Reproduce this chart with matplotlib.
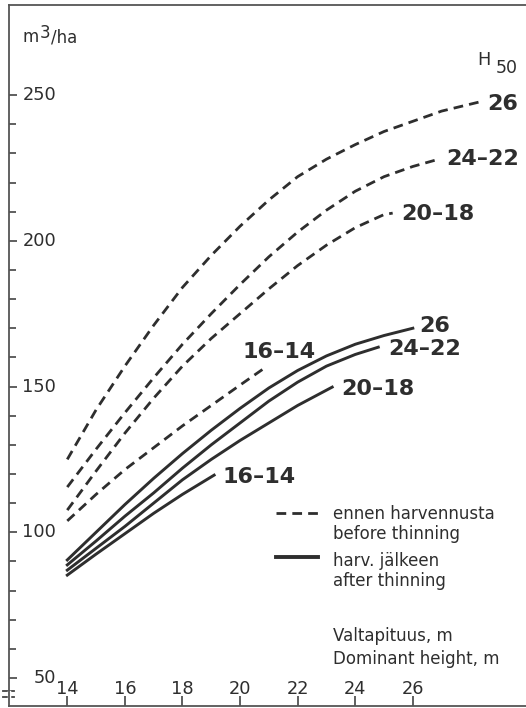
import matplotlib.pyplot as plt
from matplotlib.lines import Line2D

plt.rcParams['font.family'] = ['DejaVu Sans']

# Volume (m3/ha) against dominant height, by H50 site class
h_26_before = [14, 15, 16, 17, 18, 19, 20, 21, 22, 23, 24, 25, 26, 27, 28.3]
v_26_before = [125, 142, 157, 171, 184, 195, 205, 214, 222, 228, 233, 237.5, 241, 244.5, 247.6]
h_2422_before = [14, 15, 16, 17, 18, 19, 20, 21, 22, 23, 24, 25, 26, 26.9]
v_2422_before = [115.5, 128.5, 141, 153, 164.5, 175, 185, 194.5, 203, 210.5, 217, 222, 225.5, 228]
h_2018_before = [14, 15, 16, 17, 18, 19, 20, 21, 22, 23, 24, 25, 25.3]
v_2018_before = [107.6, 121, 134, 146, 157, 166.5, 175, 183.5, 191.5, 198.5, 204.5, 209, 209.5]
h_1614_before = [14, 15, 16, 17, 18, 19, 20, 20.8]
v_1614_before = [103.9, 113, 121.5, 129, 136.5, 143.5, 150.5, 156]

h_26_after = [14, 15, 16, 17, 18, 19, 20, 21, 22, 23, 24, 25, 26]
v_26_after = [90.5, 100, 109.5, 118.5, 127, 135, 142.5, 149.5, 155.5, 160.5, 164.5, 167.5, 170]
h_2422_after = [14, 15, 16, 17, 18, 19, 20, 21, 22, 23, 24, 24.8]
v_2422_after = [88.8, 97, 105.5, 113.5, 122, 130, 137.5, 145, 151.5, 157, 161, 163.5]
h_2018_after = [14, 15, 16, 17, 18, 19, 20, 21, 22, 23.2]
v_2018_after = [87, 94.5, 102, 110, 118, 125, 131.5, 137.5, 143.5, 149.8]
h_1614_after = [14, 15, 16, 17, 18, 19.1]
v_1614_after = [85.3, 92.5, 99.5, 106.5, 113, 119.6]

x_ticks = [14, 16, 18, 20, 22, 24, 26]
y_ticks = [50, 100, 150, 200, 250]

W, H = 526, 708
fig = plt.figure(figsize=(W / 100, H / 100), dpi=100)
ax = fig.add_axes([9 / W, 2 / H, 1 - 9 / W, 701 / H])
ax.set_xlim(11.976, 29.93)
ax.set_ylim(40.39, 280.9)

ink = '#2e2e2e'
for s in ['left', 'top', 'bottom']:
    ax.spines[s].set_color('#555555')
    ax.spines[s].set_linewidth(1.3)
ax.spines['right'].set_visible(False)

ax.set_xticks(x_ticks)
ax.set_yticks(y_ticks)
ax.set_yticks(range(50, 251, 10), minor=True)
ax.tick_params(axis='both', which='both', direction='in', colors='#444444',
               labelleft=False, labelbottom=False)
ax.tick_params(axis='y', which='major', length=6, width=1.2)
ax.tick_params(axis='y', which='minor', length=5, width=1.2)
ax.tick_params(axis='x', which='major', length=7, width=1.2)
ax.tick_params(axis='x', which='minor', length=0)

for v in y_ticks:
    ax.text(0.091, v, str(v), transform=ax.get_yaxis_transform(),
            ha='right', va='center', fontsize=12.8, color=ink)
for h in x_ticks:
    ax.text(h, 0.024, str(h), transform=ax.get_xaxis_transform(),
            ha='center', va='center', fontsize=12.8, color=ink)

# axis break marks near the bottom of the y axis
for yb in [0.0215, 0.0135]:
    ax.plot([-0.012, 0.01], [yb, yb], transform=ax.transAxes, color='#444444',
            lw=1.3, clip_on=False)
ax.plot([0, 0], [0.0145, 0.0205], transform=ax.transAxes, color='white',
        lw=2.5, clip_on=False)

dash = (3.5, 2.2)
before = [(h_26_before, v_26_before, '26', (8, 0)),
          (h_2422_before, v_2422_before, '24–22', (8, 2)),
          (h_2018_before, v_2018_before, '20–18', (9, 1)),
          (h_1614_before, v_1614_before, '16–14', (-21, 19))]
after = [(h_26_after, v_26_after, '26', (6, 4)),
         (h_2422_after, v_2422_after, '24–22', (10, 0)),
         (h_2018_after, v_2018_after, '20–18', (9, 0)),
         (h_1614_after, v_1614_after, '16–14', (8, 0))]

for hs, vs, lab, off in before:
    ax.plot(hs, vs, color=ink, lw=2.0, dashes=dash)
    ax.annotate(lab, (hs[-1], vs[-1]), xytext=off, textcoords='offset pixels',
                ha='left', va='center_baseline', fontsize=16, fontweight='bold',
                color=ink)
for hs, vs, lab, off in after:
    ax.plot(hs, vs, color=ink, lw=2.1)
    ax.annotate(lab, (hs[-1], vs[-1]), xytext=off, textcoords='offset pixels',
                ha='left', va='center_baseline', fontsize=16, fontweight='bold',
                color=ink)


def ftext(x, y, s, **kw):
    # x, y in pixels from the top-left corner, y at the text baseline
    fig.text(x / W, 1 - y / H, s, color=ink, va='baseline', **kw)


# unit label and site class heading
ftext(23, 42, 'm', fontsize=12)
ftext(40, 38, '3', fontsize=12)
ftext(51, 42, '/ha', fontsize=12)
ftext(477, 65, 'H', fontsize=12.8)
ftext(496, 73, '50', fontsize=12.5)

# legend
fig.add_artist(Line2D([276 / W, 318 / W], [1 - 513 / H] * 2, color=ink, lw=2.0, dashes=dash))
fig.add_artist(Line2D([276 / W, 318 / W], [1 - 557 / H] * 2, color=ink, lw=2.8))
ftext(333, 519, 'ennen harvennusta', fontsize=12)
ftext(333, 539, 'before thinning', fontsize=12)
ftext(333, 566, 'harv. jälkeen', fontsize=12)
ftext(333, 586, 'after thinning', fontsize=12)
ftext(333, 641, 'Valtapituus, m', fontsize=12)
ftext(333, 664, 'Dominant height, m', fontsize=12)

fig.savefig('out.png', dpi=100)
